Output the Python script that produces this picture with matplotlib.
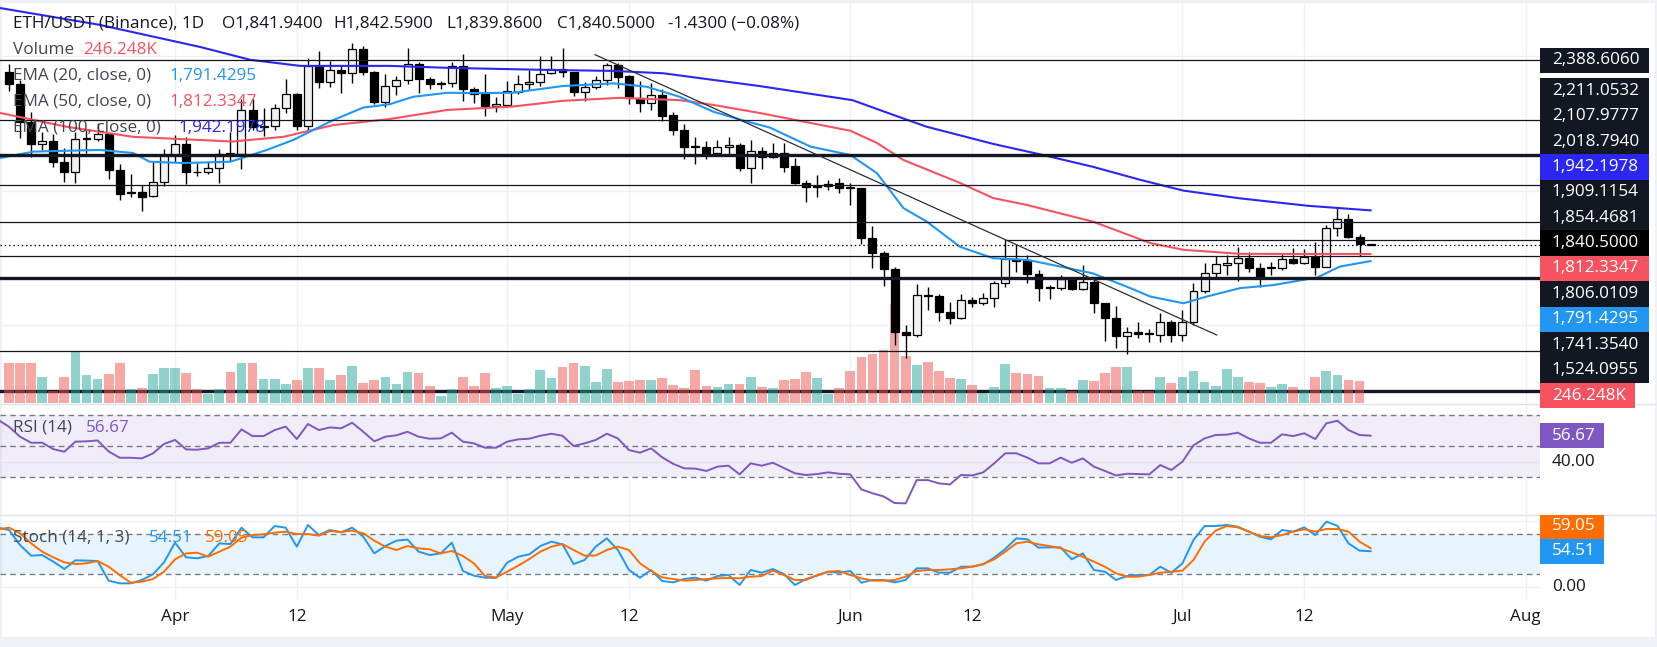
import datetime as dt
import matplotlib
matplotlib.use("Agg")
import matplotlib.pyplot as plt
from matplotlib.patches import Rectangle

plt.rcParams['font.family'] = ['Open Sans', 'DejaVu Sans']

# ---------------------------------------------------------------- data
start_date = dt.date(2023, 3, 17)          # date of candle index 0

opens = [2355, 2317, 2206, 2139, 2149, 2085, 2055, 2154, 2155, 2168,
         2061, 1993, 1996, 1985, 2026, 2106, 2141, 2057, 2055, 2067,
         2113, 2109, 2240, 2191, 2192, 2246, 2289, 2192, 2371, 2323,
         2361, 2350, 2421, 2353, 2265, 2313, 2329, 2377, 2332, 2317,
         2320, 2371, 2304, 2290, 2254, 2257, 2295, 2317, 2323, 2350,
         2362, 2354, 2293, 2308, 2329, 2375, 2342, 2275, 2261, 2285,
         2225, 2180, 2133, 2130, 2114, 2130, 2136, 2067, 2118, 2100,
         2114, 2073, 2025, 2011, 2014, 2023, 2010, 2009, 1859, 1815,
         1769, 1582, 1571, 1691, 1689, 1639, 1621, 1675, 1666, 1681,
         1725, 1798, 1795, 1752, 1711, 1711, 1738, 1708, 1728, 1666,
         1621, 1568, 1580, 1575, 1572, 1611, 1572, 1609, 1702, 1757,
         1781, 1785, 1800, 1772, 1771, 1772, 1798, 1787, 1805, 1775,
         1891, 1918, 1864, 1841.94]
highs = [2378, 2330, 2236, 2176, 2168, 2127, 2176, 2181, 2201, 2171,
         2080, 2051, 2019, 2085, 2125, 2166, 2160, 2082, 2085, 2125,
         2176, 2274, 2274, 2246, 2258, 2332, 2292, 2395, 2417, 2387,
         2375, 2440, 2431, 2357, 2348, 2342, 2424, 2383, 2340, 2326,
         2383, 2407, 2310, 2348, 2280, 2327, 2345, 2359, 2401, 2401,
         2425, 2354, 2323, 2342, 2382, 2380, 2345, 2327, 2320, 2302,
         2235, 2198, 2159, 2149, 2152, 2160, 2142, 2152, 2132, 2142,
         2142, 2097, 2033, 2048, 2033, 2040, 2025, 2009, 1896, 1822,
         1775, 1601, 1722, 1713, 1694, 1670, 1694, 1686, 1696, 1732,
         1854, 1842, 1810, 1765, 1720, 1750, 1740, 1779, 1737, 1666,
         1658, 1596, 1610, 1589, 1636, 1616, 1646, 1727, 1785, 1808,
         1810, 1832, 1817, 1785, 1790, 1813, 1829, 1827, 1849, 1899,
         1948, 1932, 1872, 1842.59]
lows = [2298, 2157, 2102, 2122, 2072, 2028, 2025, 2112, 2150, 2036,
        1973, 1983, 1941, 1983, 2016, 2085, 2020, 2045, 2049, 2025,
        2090, 2064, 2180, 2162, 2181, 2233, 2181, 2179, 2307, 2310,
        2290, 2322, 2345, 2258, 2251, 2286, 2317, 2290, 2304, 2304,
        2310, 2268, 2263, 2223, 2236, 2249, 2287, 2300, 2313, 2349,
        2340, 2283, 2268, 2303, 2315, 2307, 2260, 2236, 2241, 2209,
        2165, 2094, 2081, 2096, 2107, 2107, 2060, 2025, 2066, 2097,
        2057, 2021, 1968, 1981, 2003, 1995, 1959, 1841, 1772, 1718,
        1542, 1502, 1567, 1646, 1614, 1605, 1619, 1654, 1661, 1656,
        1713, 1760, 1727, 1674, 1680, 1706, 1704, 1706, 1638, 1555,
        1534, 1515, 1562, 1550, 1552, 1552, 1555, 1601, 1698, 1745,
        1751, 1731, 1760, 1715, 1750, 1765, 1784, 1782, 1750, 1773,
        1866, 1861, 1807, 1839.86]
closes = [2317, 2206, 2139, 2149, 2085, 2055, 2155, 2157, 2168, 2061,
          1992, 1996, 1983, 2026, 2106, 2141, 2057, 2055, 2067, 2111,
          2109, 2240, 2191, 2193, 2246, 2287, 2192, 2371, 2323, 2361,
          2350, 2421, 2353, 2265, 2313, 2329, 2377, 2332, 2317, 2321,
          2371, 2304, 2289, 2254, 2258, 2296, 2317, 2324, 2349, 2362,
          2353, 2293, 2308, 2329, 2374, 2340, 2275, 2261, 2285, 2224,
          2180, 2132, 2132, 2114, 2130, 2136, 2067, 2118, 2100, 2114,
          2072, 2025, 2011, 2015, 2022, 2008, 2009, 1859, 1815, 1769,
          1582, 1571, 1690, 1689, 1639, 1621, 1675, 1666, 1681, 1725,
          1798, 1793, 1752, 1711, 1712, 1739, 1708, 1728, 1666, 1621,
          1568, 1580, 1574, 1574, 1611, 1572, 1609, 1702, 1757, 1782,
          1785, 1800, 1772, 1743, 1774, 1797, 1787, 1805, 1775, 1891,
          1918, 1864, 1841.93, 1840.50]
volume_k = [450, 450, 450, 295, 133, 295, 579, 314, 269, 326,
            450, 155, 170, 326, 400, 400, 340, 155, 107, 155,
            348, 450, 450, 269, 269, 212, 258, 400, 400, 258,
            314, 420, 227, 258, 292, 212, 356, 340, 190, 80,
            155, 295, 190, 340, 170, 190, 100, 155, 380, 280,
            409, 454, 416, 238, 382, 235, 246, 257, 257, 284,
            200, 166, 371, 193, 178, 216, 216, 291, 178, 166,
            257, 269, 348, 280, 106, 166, 360, 518, 552, 598,
            1128, 530, 428, 462, 360, 280, 269, 200, 117, 178,
            439, 337, 329, 303, 166, 166, 140, 257, 246, 337,
            405, 405, 140, 140, 291, 223, 291, 360, 235, 189,
            382, 291, 235, 223, 178, 212, 178, 144, 291, 360,
            314, 257, 246.248, 0]

# EMA lines (candle index, price)
ema20_idx = [-0.8, 2.2, 8.2, 11.2, 12.7, 15.7, 20, 23.3, 25.7, 29.3, 32, 34.4, 36.5,
             39.6, 42.6, 45.5, 50, 54.6, 57.6, 60.6, 63.6, 66.7, 68.7, 72.4, 76,
             78.4, 80.8, 82.9, 85.9, 88.9, 92, 95, 97.9, 101, 103.1, 106.1, 108.2,
             111.2, 114.2, 118.2, 120.2, 123]
ema20_val = [2098, 2117, 2122, 2113, 2087, 2083, 2087, 2122, 2152, 2211, 2248, 2258, 2280,
             2292, 2291, 2292, 2312, 2320, 2310, 2280, 2236, 2206, 2189, 2132, 2107,
             2053, 1949, 1909, 1834, 1800, 1795, 1775, 1755, 1715, 1686, 1666, 1686,
             1711, 1720, 1743, 1775, 1791.4295]
ema50_idx = [-0.8, 5.2, 11.2, 20.2, 24.8, 29.3, 34.4, 39.6, 45.5, 50, 55.2, 60.6, 63.6,
             67.8, 76, 78.4, 80.8, 85.9, 88.9, 92, 97.9, 103.1, 106.1, 111.2, 123]
ema50_val = [2232, 2191, 2161, 2147, 2161, 2196, 2214, 2241, 2251, 2268, 2277, 2270, 2256,
             2232, 2179, 2143, 2092, 2024, 1979, 1958, 1909, 1845, 1825, 1813, 1812.3347]
ema100_idx = [-0.8, 8.2, 17.3, 21.8, 26.3, 34.4, 39.8, 48.6, 54.6, 59.1, 67.8, 76.2,
              79.9, 82.9, 88.9, 93.4, 97.9, 102.2, 106.1, 111.2, 117.3, 123]
ema100_val = [2544, 2494, 2428, 2390, 2372, 2372, 2366, 2360, 2357, 2350, 2312, 2270,
              2226, 2191, 2140, 2107, 2072, 2033, 2001, 1978, 1956, 1942.1978]

# oscillators, candle index -1 .. 123
rsi_vals = [67.0, 62.4, 56.0, 52.1, 52.1, 48.0, 46.3, 52.8, 53.0, 53.6,
            46.5, 42.4, 42.4, 42.0, 45.2, 51.3, 53.9, 47.8, 47.6, 48.5,
            52.1, 52.1, 60.7, 56.4, 56.4, 60.3, 62.5, 54.5, 64.2, 60.3,
            62.0, 61.4, 65.0, 59.2, 53.0, 56.0, 56.9, 59.2, 56.0, 54.7,
            54.9, 58.6, 52.8, 51.7, 48.9, 48.9, 52.8, 54.3, 54.7, 56.6,
            57.9, 56.6, 50.0, 51.7, 53.9, 57.9, 54.9, 47.4, 45.7, 48.5,
            42.7, 38.5, 35.6, 35.4, 33.9, 36.7, 37.3, 31.7, 38.8, 37.3,
            39.2, 35.8, 32.4, 31.3, 31.9, 33.0, 32.1, 31.7, 22.0, 19.5,
            17.5, 13.2, 13.0, 28.0, 28.0, 25.9, 25.2, 31.3, 31.0, 33.0,
            38.8, 45.3, 45.3, 42.5, 38.8, 38.8, 42.5, 39.2, 42.0, 36.7,
            33.9, 31.0, 32.1, 31.9, 31.7, 37.7, 34.5, 39.9, 50.4, 54.9,
            57.1, 57.3, 58.6, 54.9, 52.1, 52.1, 57.5, 56.4, 58.2, 54.5,
            64.6, 66.3, 60.3, 57.1, 56.67]
stoch_k = [90.0, 86.5, 63.8, 47.7, 48.7, 38.7, 27.6, 40.7, 40.3, 39.7,
           10.0, 5.9, 5.9, 11.0, 19.5, 37.6, 67.4, 45.2, 43.7, 47.2,
           66.3, 65.3, 90.0, 75.4, 75.4, 92.5, 90.0, 61.3, 94.0, 78.9,
           86.5, 83.0, 90.0, 76.4, 51.2, 62.3, 70.4, 72.0, 53.8, 48.7,
           51.2, 67.4, 24.6, 17.5, 14.5, 14.0, 37.1, 46.2, 49.7, 62.3,
           68.9, 64.8, 35.1, 41.2,
           61.3, 73.9, 56.3, 26.1, 14.5, 26.1, 9.5, 7.4, 12.5, 14.5,
           10.0, 17.0, 18.5, 3.4, 26.1, 22.0, 27.6, 20.0, 3.4, 12.5,
           17.5, 23.5, 22.0, 24.6, 6.9, 11.0, 11.0, 7.4, 11.0, 28.6,
           28.6, 22.0, 22.0, 31.1, 31.1, 34.6, 44.7, 57.8, 73.9, 72.4,
           59.8, 60.3, 60.3, 42.2, 51.2, 26.1, 23.5, 11.0, 17.0, 18.5,
           18.5, 31.1, 22.0, 36.1, 71.4, 92.5, 92.5, 94.0, 91.5, 84.0,
           76.4, 72.4, 86.5, 84.0, 90.5, 78.9, 99.1, 93.0, 66.3, 55.3,
           54.51]
stoch_d = [87.5, 90.0, 81.5, 66.3, 53.8, 45.2, 37.6, 35.1, 36.1, 39.7,
           31.1, 18.5, 6.9, 8.4, 12.5, 23.5, 42.2, 51.2, 52.2, 46.2,
           53.8, 61.3, 74.9, 78.9, 79.9, 82.5, 84.0, 80.4, 80.4, 77.9,
           85.0, 83.5, 85.5, 81.5, 70.4, 61.3, 56.3, 62.3, 58.8, 57.3,
           51.2, 54.8, 47.2, 36.1, 17.0, 15.0, 23.5, 32.6, 42.7, 53.8,
           61.3, 65.3, 56.3, 47.7,
           48.0, 56.3, 61.3, 56.3, 36.1, 24.6, 15.0, 12.5, 10.0, 11.0,
           12.5, 13.5, 14.0, 13.5, 16.0, 17.0, 25.1, 18.5, 11.0, 11.0,
           18.5, 23.5, 24.6, 18.5, 13.5, 10.0, 10.0, 11.0, 16.0, 24.6,
           26.1, 26.1, 27.1, 28.6, 31.1, 35.1, 42.2, 53.8, 66.3, 68.9,
           64.8, 62.3, 58.8, 52.7, 46.2, 38.7, 31.1, 21.0, 16.0, 16.0,
           18.5, 22.0, 23.5, 25.1, 41.2, 68.9, 85.5, 92.5, 90.5, 84.0,
           77.4, 75.4, 78.9, 84.0, 87.5, 84.0, 88.0, 88.0, 84.0, 68.9,
           59.05]

# drawings
hlines_thin = [2388.6060, 2211.0532, 2018.7940, 1909.1154, 1806.0109, 1524.0955]
hlines_thick = [2107.9777, 1741.3540]
bottom_thick_line = 1405.0
ray_level, ray_start = 1854.4681, 90
last_price = 1840.5
trend_idx = [52.94, 109.1]
trend_val = [2405.3, 1571.6]
price_grid = [1600, 2000, 2400]

tick_dates = [dt.date(2023, 4, 1), dt.date(2023, 4, 12), dt.date(2023, 5, 1),
              dt.date(2023, 5, 12), dt.date(2023, 6, 1), dt.date(2023, 6, 12),
              dt.date(2023, 7, 1), dt.date(2023, 7, 12), dt.date(2023, 8, 1)]

# ---------------------------------------------------------------- layout
W, H = 1658, 647
fig = plt.figure(figsize=(W / 100, H / 100), dpi=100)
fig.patch.set_facecolor('#eef1f6')
fig.patches.append(Rectangle((2 / W, 1 - 637 / H), 1653 / W, 634 / H,
                             transform=fig.transFigure, facecolor='white',
                             edgecolor='none', zorder=-5))

def px_axes(x0, y0, x1, y1, z):
    ax = fig.add_axes([x0 / W, 1 - y1 / H, (x1 - x0) / W, (y1 - y0) / H], zorder=z)
    ax.set_axis_off()
    return ax

XL, XR = -9 / 11.07, 1531 / 11.07
P_TOP, P_BOT = 2559.0, 1369.4
VMAX = 400 / 0.0881

GRID = '#eef0f5'
DARK = '#131722'
UP_VOL, DN_VOL = '#26a69a', '#ef5350'
C20, C50, C100 = '#2196f3', '#f7525f', '#2b26f2'

tick_idx = [(d - start_date).days for d in tick_dates]
tick_lab = [d.strftime('%b') if d.day == 1 else str(d.day) for d in tick_dates]
n = list(range(len(opens)))

# volume layer (behind price)
ax_v = px_axes(0, 3, 1540, 403, 1)
ax_v.set_xlim(XL, XR)
ax_v.set_ylim(0, VMAX)
for t in tick_idx:
    ax_v.axvline(t, color=GRID, lw=1, zorder=0)
thick_v = (bottom_thick_line - P_BOT) / (P_TOP - P_BOT) * VMAX
ax_v.axhline(thick_v, color=DARK, lw=2.4, zorder=1)
for i, v in enumerate(volume_k):
    col = UP_VOL if closes[i] >= opens[i] else DN_VOL
    ax_v.bar(i, v, width=0.88, color=col, alpha=0.5, zorder=2, linewidth=0)

# price layer
ax_p = px_axes(0, 3, 1540, 403, 2)
ax_p.set_xlim(XL, XR)
ax_p.set_ylim(P_BOT, P_TOP)
for g in price_grid:
    ax_p.axhline(g, color=GRID, lw=1, zorder=0.5)
for i in n:
    o, h, l, c = opens[i], highs[i], lows[i], closes[i]
    up = c >= o
    ax_p.vlines(i, l, h, color='#000000', lw=1.0, zorder=4)
    bot = min(o, c)
    ht = max(abs(c - o), 2.2)
    ax_p.add_patch(Rectangle((i - 0.36, bot), 0.72, ht,
                             facecolor='#f0f1f3' if up else '#000000',
                             edgecolor='#000000', lw=0.9, zorder=5))
ax_p.plot(ema100_idx, ema100_val, color=C100, lw=1.5, zorder=6)
ax_p.plot(ema50_idx, ema50_val, color=C50, lw=1.5, zorder=6)
ax_p.plot(ema20_idx, ema20_val, color=C20, lw=1.5, zorder=6)
for y in hlines_thin:
    ax_p.axhline(y, color=DARK, lw=0.9, zorder=7)
for y in hlines_thick:
    ax_p.axhline(y, color=DARK, lw=2.4, zorder=7)
ax_p.plot([ray_start, XR], [ray_level, ray_level], color=DARK, lw=0.9, zorder=7)
ax_p.axhline(last_price, color='#000000', lw=0.9, ls=(0, (1.2, 2.2)), zorder=7)
ax_p.plot(trend_idx, trend_val, color='#2a2e39', lw=0.9, zorder=7)

# RSI pane
ax_r = px_axes(0, 404, 1540, 514, 2)
ax_r.set_xlim(XL, XR)
ax_r.set_ylim(70 - (514 - 415) / 1.55, 70 + (415 - 404) / 1.55)
ax_r.axhspan(30, 70, color='#7e57c2', alpha=0.1, lw=0, zorder=0)
for t in tick_idx:
    ax_r.axvline(t, color=GRID, lw=1, zorder=0.2)
ax_r.axhline(40, color='#e6e3ef', lw=1, zorder=0.3)
for lv in (70, 50, 30):
    ax_r.axhline(lv, color='#787b86', lw=1, ls=(0, (4, 3)), zorder=1)
ax_r.plot(range(-1, len(rsi_vals) - 1), rsi_vals, color='#7e57c2', lw=1.4, zorder=3)

# Stoch pane
ax_s = px_axes(0, 515, 1540, 600, 2)
ax_s.set_xlim(XL, XR)
ax_s.set_ylim(80 - (600 - 534.3) / 0.662, 80 + (534.3 - 515) / 0.662)
ax_s.axhspan(20, 80, color='#2196f3', alpha=0.1, lw=0, zorder=0)
for t in tick_idx:
    ax_s.axvline(t, color=GRID, lw=1, zorder=0.2)
for lv in (100, 0):
    ax_s.axhline(lv, color=GRID, lw=1, zorder=0.3)
for lv in (80, 20):
    ax_s.axhline(lv, color='#787b86', lw=1, ls=(0, (4, 3)), zorder=1)
xs = range(-1, len(stoch_k) - 1)
ax_s.plot(xs, stoch_k, color='#2196f3', lw=1.4, zorder=3)
ax_s.plot(xs, stoch_d, color='#ff6d00', lw=1.4, zorder=4)

# overlay in pixel coordinates for texts and labels
ov = fig.add_axes([0, 0, 1, 1], zorder=10)
ov.set_xlim(0, W)
ov.set_ylim(H, 0)
ov.set_axis_off()

for yy in (403.5, 514.5):
    ov.plot([0, 1655], [yy, yy], color='#e0e3eb', lw=1)

FS = 12.3
# time axis
for t, lab in zip(tick_idx, tick_lab):
    xpx = 9 + 11.07 * t
    ov.text(xpx, 617, lab, ha='center', va='center', fontsize=FS, color=DARK)
ov.add_patch(Rectangle((1540, 600), 115, 36, facecolor='white', edgecolor='none', zorder=5))

# legends
def seq(y, parts):
    for txt, col, xx in parts:
        ov.text(xx, y, txt, ha='left', va='center', fontsize=FS, color=col)

o_, h_, l_, c_ = opens[-1], highs[-1], lows[-1], closes[-1]
chg = c_ - closes[-2]
pct = chg / closes[-2] * 100
sign = '\u2212' if pct < 0 else '+'
seq(24, [('ETH/USDT (Binance), 1D', DARK, 13),
         (f'O{o_:,.4f}', DARK, 222), (f'H{h_:,.4f}', DARK, 333),
         (f'L{l_:,.4f}', DARK, 446), (f'C{c_:,.4f}', DARK, 557),
         (f'{chg:.4f} ({sign}{abs(pct):.2f}%)', DARK, 668)])
seq(50, [('Volume', '#434651', 13), (f'{volume_k[-2]:.3f}K', C50, 83)])
seq(76, [('EMA (20, close, 0)', '#434651', 13), (f'{ema20_val[-1]:,.4f}', C20, 170)])
seq(102, [('EMA (50, close, 0)', '#434651', 13), (f'{ema50_val[-1]:,.4f}', C50, 170)])
seq(128, [('EMA (100, close, 0)', '#434651', 13), (f'{ema100_val[-1]:,.4f}', C100, 179)])
seq(428, [('RSI (14)', '#434651', 13), (f'{rsi_vals[-1]:.2f}', '#7e57c2', 86)])
seq(538, [('Stoch (14, 1, 3)', '#434651', 13), (f'{stoch_k[-1]:.2f}', '#2196f3', 149),
          (f'{stoch_d[-1]:.2f}', '#ff6d00', 205)])

# right-hand value labels
def label(txt, yc, bg, x1=1649, h=25.5, fg='white'):
    ov.add_patch(Rectangle((1540, yc - h / 2), x1 - 1540, h, facecolor=bg,
                           edgecolor='none', zorder=6))
    ov.text(1552, yc, txt, ha='left', va='center', fontsize=FS, color=fg, zorder=7)

label(f'{volume_k[-2]:.3f}K', 395.5, C50, x1=1635)
label(f'{hlines_thin[0]:,.4f}', 60.5, DARK)
group = [(hlines_thin[1], DARK), (hlines_thick[0], DARK), (hlines_thin[2], DARK),
         (ema100_val[-1], C100), (hlines_thin[3], DARK), (ray_level, DARK),
         (last_price, '#000000'), (ema50_val[-1], C50), (hlines_thin[4], DARK),
         (ema20_val[-1], C20), (hlines_thick[1], DARK), (hlines_thin[5], DARK)]
for k, (v, bg) in enumerate(group):
    label(f'{v:,.4f}', 90.7 + 25.4 * k, bg)

label(f'{rsi_vals[-1]:.2f}', 435.7, '#7e57c2', x1=1604)
ov.text(1552, 461.5, '40.00', ha='left', va='center', fontsize=FS, color=DARK)
label(f'{stoch_k[-1]:.2f}', 551.0, '#2196f3', x1=1604)
label(f'{stoch_d[-1]:.2f}', 526.5, '#ff6d00', x1=1604, h=24)
ov.text(1552, 587.3, '0.00', ha='left', va='center', fontsize=FS, color=DARK)

fig.savefig('out.png', dpi=100, facecolor=fig.get_facecolor())
